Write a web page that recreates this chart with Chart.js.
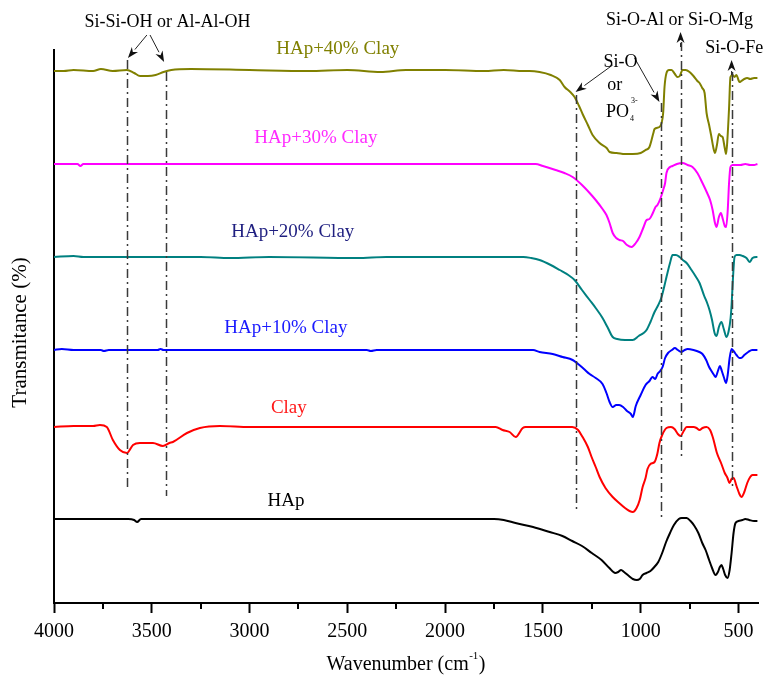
<!DOCTYPE html>
<html><head><meta charset="utf-8">
<script src="https://cdn.jsdelivr.net/npm/chart.js@4.4.1/dist/chart.umd.min.js"></script>
<style>html,body{margin:0;padding:0;background:#fff;}#wrap{width:766px;height:676px;position:relative;}</style>
</head><body><div id="wrap"><canvas id="c"></canvas></div>
<script>
// ---- data (wavenumber in cm-1, transmittance in offset arbitrary units) ----
const xTicks = [4000,3500,3000,2500,2000,1500,1000,500];
const xMinorTicks = [3750,3250,2750,2250,1750,1250,750];

const wnHAp = [4000,3800,3620,3590,3575,3555,3300,3000,2500,2000,
  1750,1700,1640,1550,1465,1400,1350,1300,1250,1200,
  1160,1130,1115,1100,1085,1060,1040,1020,1005,990,
  970,950,930,910,890,870,850,830,805,790,
  765,745,725,705,685,668,650,635,617,605,
  595,587,578,568,556,545,535,525,515,500,
  480,465,445,420,403];
const tHAp = [84,84,84,83,81,84,84,84,84,84,
  84,83,80,76,71,67,62,57,50,43,
  35,30,31,33,31,27,24,23,24,28,
  30,32,36,41,50,61,70,78,84,85,
  85,82,77,70,60,53,43,35,28,31,
  36,38,34,28,25,33,50,70,80,82,
  83,84,83,82,82];

const wnClay = [4000,3900,3800,3765,3730,3699,3663,3627,3596,3561,
  3494,3443,3410,3392,3320,3254,3152,3000,2500,2000,
  1741,1706,1670,1639,1603,1588,1400,1350,1320,1297,
  1270,1251,1230,1210,1180,1143,1110,1080,1057,1040,
  1021,1005,990,975,965,950,929,915,904,890,
  868,845,827,810,796,780,765,730,714,699,
  684,663,645,630,610,587,570,556,546,535,
  525,510,495,485,470,455,440,428,403];
const tClay = [176,177,177,178,176,163,153,150,158,160,
  160,157,160,161,170,175,177,176,176,176,
  176,173,171,166,175,176,176,176,173,166,
  156,146,136,126,115,106,100,95,92,91,
  95,103,116,125,134,139,141,149,160,168,
  175,176,174,169,167,172,176,176,175,173,
  175,176,173,165,150,139,130,125,120,124,
  125,117,109,106,111,120,126,128,128];

const wnC10 = [4000,3960,3900,3760,3745,3720,3470,3455,3440,3000,
  2400,2380,2350,2000,1550,1517,1450,1399,1348,1320,
  1290,1261,1230,1195,1175,1159,1143,1125,1110,1090,
  1070,1050,1040,1025,1000,975,955,940,925,914,
  900,888,875,860,840,825,810,793,775,760,
  730,700,684,665,650,638,625,617,605,595,
  585,575,563,555,545,535,525,510,495,487,
  470,450,430,403];
const tC10 = [253,254,253,253,252,253,253,254,253,253,
  253,252,253,253,253,251,249,246,243,239,
  234,229,225,219,210,201,196,198,198,196,
  192,189,186,197,208,218,222,226,224,229,
  232,236,245,250,253,255,253,251,253,254,
  253,251,249,243,236,232,228,226,232,237,
  232,226,220,228,245,254,252,248,245,245,
  248,251,253,253];

const wnC20 = [4000,3900,3850,3700,3500,3250,3100,2900,2450,2300,
  2000,1600,1560,1517,1460,1414,1370,1338,1300,1261,
  1230,1195,1170,1143,1120,1080,1041,1010,985,970,
  950,929,910,893,880,868,850,837,820,801,
  785,765,740,720,699,675,660,648,635,622,
  612,600,587,575,561,550,540,535,528,520,
  510,495,478,459,443,428,408,403];
const tC20 = [346,347,346,346,346,346,345,346,345,346,
  346,346,345,343,338,333,328,323,313,303,
  295,285,276,266,264,263,263,267,270,273,
  281,291,298,306,316,326,340,348,348,346,
  343,340,333,327,320,307,300,293,283,270,
  267,276,281,274,266,272,285,298,325,346,
  348,348,347,345,341,345,346,346];

const wnC30 = [4000,3880,3865,3850,3000,2000,1560,1537,1500,1435,
  1390,1348,1300,1261,1230,1195,1175,1159,1143,1125,
  1108,1090,1070,1046,1025,1006,985,970,955,940,
  924,914,898,885,875,868,850,837,815,786,
  760,735,710,684,660,645,632,620,612,600,
  590,580,570,563,555,548,541,530,515,490,
  465,440,420,403];
const tC30 = [439,439,437,439,439,439,439,439,437,433,
  430,426,418,410,403,394,388,380,370,365,
  363,362,358,356,360,366,376,383,384,389,
  396,398,405,413,420,430,436,437,439,440,
  438,436,430,420,410,403,393,380,376,386,
  390,384,377,376,392,420,436,438,438,438,
  439,438,438,439];

const wnC40 = [4000,3950,3900,3800,3760,3700,3627,3590,3560,3520,
  3480,3440,3400,3300,3000,2700,2500,2330,2200,2000,
  1800,1700,1600,1568,1517,1460,1414,1389,1360,1338,
  1315,1297,1270,1246,1210,1174,1159,1123,1080,1040,
  1000,975,955,935,929,904,893,885,878,868,
  855,842,825,812,800,786,770,750,730,710,
  699,685,673,663,650,640,628,620,610,600,
  590,581,570,563,556,548,541,530,520,510,
  500,495,485,470,455,440,420,403];
const tC40 = [532,532,533,532,534,532,533,530,527,527,
  528,531,533,534,533,532,533,531,533,533,
  532,533,532,532,531,528,523,516,511,506,
  497,489,478,468,460,455,451,450,449,449,
  450,453,456,470,474,476,480,490,516,530,
  533,533,529,526,527,533,533,531,527,522,
  520,515,510,490,478,468,455,450,458,469,
  467,466,455,449,465,495,526,528,526,528,
  523,521,522,524,525,524,525,525];

const seriesNames = ['HAp','Clay','HAp+10% Clay','HAp+20% Clay','HAp+30% Clay','HAp+40% Clay'];
const seriesWn = [wnHAp, wnClay, wnC10, wnC20, wnC30, wnC40];
const seriesT = [tHAp, tClay, tC10, tC20, tC30, tC40];
const seriesColors = ['#000000','#ff0000','#0000ff','#008080','#ff00ff','#808000'];
const labelColors = ['#000000','#ff1a1a','#1a1aff','#1f1f80','#ff2bff','#808000'];
const labelPos = [[2814,102],[2799,195],[2814,275],[2779,371],[2661,465],[2549,554]];

// ---- annotation config ----
const markers = [
  {wn:3627, top:543, bottom:113},
  {wn:3428, top:531, bottom:107},
  {wn:1333, top:508, bottom:90},
  {wn:898,  top:500, bottom:83},
  {wn:796,  top:561, bottom:143},
  {wn:535,  top:531, bottom:116}
];
const arrows = [
  {from:[3525,568], to:[3622,545]},
  {from:[3509,568], to:[3437,541]},
  {from:[1143,538], to:[1333,511]},
  {from:[1031,545], to:[904,501]},
  {from:[796,556], to:[796,571]},
  {from:[535,528], to:[535,543]}
];
const notes = [
  {text:'Si-Si-OH or Al-Al-OH', wn:3420, v:581},
  {text:'Si-O-Al or Si-O-Mg', wn:801, v:583},
  {text:'Si-O-Fe', wn:522, v:555},
  {text:'Si-O', wn:1103, v:541},
  {text:'or', wn:1133, v:518}
];

const SERIF = '"Liberation Serif", "Times New Roman", serif';

const annotPlugin = {
  id: 'annot',
  afterDatasetsDraw(chart) {
    const {ctx, chartArea, scales: {x, y}} = chart;
    const px = w => x.getPixelForValue(w);
    const py = v => y.getPixelForValue(v);
    ctx.save();
    // minor ticks
    ctx.strokeStyle = '#000'; ctx.lineWidth = 2;
    xMinorTicks.forEach(w => {
      const X = Math.round(px(w));
      ctx.beginPath(); ctx.moveTo(X, chartArea.bottom); ctx.lineTo(X, chartArea.bottom + 6); ctx.stroke();
    });
    // dash-dot marker lines
    ctx.strokeStyle = '#3a3a3a'; ctx.lineWidth = 1.5; ctx.setLineDash([9,4,2,4]);
    markers.forEach(m => {
      const X = Math.round(px(m.wn)) + 0.5;
      ctx.beginPath(); ctx.moveTo(X, py(m.top)); ctx.lineTo(X, py(m.bottom)); ctx.stroke();
    });
    ctx.setLineDash([]);
    // arrows
    ctx.strokeStyle = '#222'; ctx.fillStyle = '#111'; ctx.lineWidth = 1;
    arrows.forEach(a => {
      const x1 = px(a.from[0]), y1 = py(a.from[1]), x2 = px(a.to[0]), y2 = py(a.to[1]);
      const ang = Math.atan2(y2 - y1, x2 - x1);
      const L = 11, H = 4;
      const bx = x2 - L * Math.cos(ang), by = y2 - L * Math.sin(ang);
      ctx.beginPath(); ctx.moveTo(x1, y1); ctx.lineTo(bx, by); ctx.stroke();
      ctx.beginPath();
      ctx.moveTo(x2, y2);
      ctx.lineTo(bx + H * Math.sin(ang), by - H * Math.cos(ang));
      ctx.lineTo(bx + 0.3 * L * Math.cos(ang), by + 0.3 * L * Math.sin(ang));
      ctx.lineTo(bx - H * Math.sin(ang), by + H * Math.cos(ang));
      ctx.closePath(); ctx.fill();
    });
    // series labels
    ctx.textAlign = 'center'; ctx.textBaseline = 'middle';
    ctx.font = '19px ' + SERIF;
    seriesNames.forEach((n, i) => {
      ctx.fillStyle = labelColors[i];
      ctx.fillText(n, px(labelPos[i][0]), py(labelPos[i][1]));
    });
    // notes
    ctx.fillStyle = '#000';
    ctx.font = '18px ' + SERIF;
    notes.forEach(n => ctx.fillText(n.text, px(n.wn), py(n.v)));
    // PO4 3-
    const poX = px(1118), poY = py(491);
    const wPO = ctx.measureText('PO').width;
    ctx.fillText('PO', poX, poY);
    ctx.textAlign = 'left';
    ctx.font = '8px ' + SERIF;
    ctx.fillText('3-', poX + wPO / 2 + 2, poY - 11);
    ctx.fillText('4', poX + wPO / 2 + 1, poY + 7);
    // axis titles
    ctx.fillStyle = '#000';
    ctx.font = '21px ' + SERIF;
    ctx.textAlign = 'center';
    ctx.save();
    ctx.translate(chartArea.left - 34, (chartArea.top + chartArea.bottom) / 2 + 6);
    ctx.rotate(-Math.PI / 2);
    ctx.fillText('Transmitance (%)', 0, 0);
    ctx.restore();
    // x title with superscript
    const main = 'Wavenumber (cm', sup = '-1', end = ')';
    ctx.font = '20px ' + SERIF;
    const w1 = ctx.measureText(main).width, w3 = ctx.measureText(end).width;
    ctx.font = '11px ' + SERIF;
    const w2 = ctx.measureText(sup).width;
    const total = w1 + w2 + w3 + 1;
    let tx = (chartArea.left + chartArea.right) / 2 - total / 2;
    const ty = chartArea.bottom + 62;
    ctx.textAlign = 'left';
    ctx.font = '20px ' + SERIF; ctx.fillText(main, tx, ty);
    ctx.font = '11px ' + SERIF; ctx.fillText(sup, tx + w1 + 0.5, ty - 9);
    ctx.font = '20px ' + SERIF; ctx.fillText(end, tx + w1 + w2 + 1, ty);
    ctx.restore();
  }
};

const datasets = seriesNames.map((n, i) => ({
  label: n,
  data: seriesWn[i].map((w, j) => ({x: w, y: seriesT[i][j]})),
  borderColor: seriesColors[i],
  borderWidth: 2,
  pointRadius: 0,
  fill: false,
  cubicInterpolationMode: 'monotone'
}));

new Chart(document.getElementById('c'), {
  type: 'line',
  data: {datasets},
  plugins: [annotPlugin],
  options: {
    responsive: true,
    maintainAspectRatio: false,
    animation: false,
    layout: {padding: {top: 50, right: 8, left: 0, bottom: 0}},
    plugins: {legend: {display: false}, tooltip: {enabled: false}},
    scales: {
      x: {
        type: 'linear', reverse: true, min: 400, max: 4000,
        afterBuildTicks: s => { s.ticks = xTicks.map(v => ({value: v})); },
        afterFit: s => { s.height = 73; },
        ticks: {callback: v => String(v), color: '#000', padding: 7, maxRotation: 0, autoSkip: false,
                font: {family: SERIF, size: 20}},
        grid: {drawOnChartArea: false, drawTicks: true, tickLength: 10, tickWidth: 2, tickColor: '#000', color: '#000'},
        border: {display: true, color: '#000', width: 2},
        title: {display: false}
      },
      y: {
        type: 'linear', min: 0, max: 553,
        afterFit: s => { s.width = 54; },
        ticks: {display: false},
        grid: {display: false, drawTicks: false},
        border: {display: true, color: '#000', width: 2},
        title: {display: false}
      }
    }
  }
});
</script>
</body></html>
